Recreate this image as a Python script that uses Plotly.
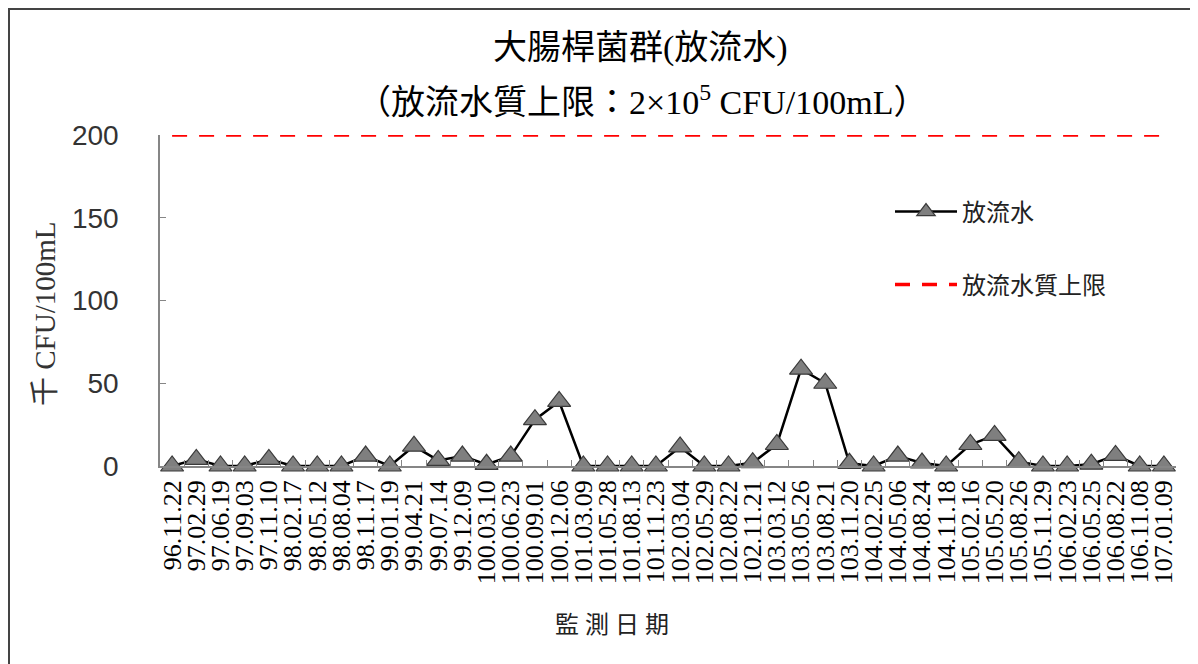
import plotly.graph_objects as go

dates = ["96.11.22", "97.02.29", "97.06.19", "97.09.03", "97.11.10", "98.02.17", "98.05.12",
         "98.08.04", "98.11.17", "99.01.19", "99.04.21", "99.07.14", "99.12.09", "100.03.10",
         "100.06.23", "100.09.01", "100.12.06", "101.03.09", "101.05.28", "101.08.13", "101.11.23",
         "102.03.04", "102.05.29", "102.08.22", "102.11.21", "103.03.12", "103.05.26", "103.08.21",
         "103.11.20", "104.02.25", "104.05.06", "104.08.24", "104.11.18", "105.02.16", "105.05.20",
         "105.08.26", "105.11.29", "106.02.23", "106.05.25", "106.08.22", "106.11.08", "107.01.09"]

effluent = [0, 4, 0, 0, 4, 0, 0,
            0, 6, 0, 12, 3.4, 6, 1,
            6, 28, 39, 0, 0, 0, 0,
            11.5, 0, 0, 2, 13, 58.5, 50,
            1.6, 0, 6, 1.8, 0, 13, 18.5,
            2.6, 0, 0, 1.1, 6.4, 0, 0]

limit_value = 200
limit = [limit_value] * len(dates)

serif = "Liberation Serif, Noto Sans CJK TC, serif"
cjk = "Liberation Serif, Noto Sans CJK TC, sans-serif"

fig = go.Figure()
fig.add_trace(go.Scatter(
    x=dates, y=effluent, mode="lines+markers", name="放流水",
    line=dict(color="black", width=2.5),
    marker=dict(symbol="triangle-up", size=20, color="#7f7f7f",
                line=dict(color="#3a3a3a", width=1.2)),
    cliponaxis=False, legend="legend"))
fig.add_trace(go.Scatter(
    x=dates, y=limit, mode="lines", name="放流水質上限",
    line=dict(color="#ff0000", width=3.5, dash="15px,12px"),
    cliponaxis=False, legend="legend2"))

# page body has an 8px margin; work in page coordinates
OFF = 8
PAGE_W, PAGE_H = 1198, 664
W, H = PAGE_W - OFF, PAGE_H - OFF
PL, PR, PT, PB = 160, 1176, 135, 466  # plot area in page coords
L, T = PL - OFF, PT - OFF
R = W - (PR - OFF)
B = H - (PB - OFF)
pw, ph = PR - PL, PB - PT

def px(x):
    return (x - PL) / pw

def py(y):
    return (PB - y) / ph

fig.update_layout(
    width=W, height=H,
    margin=dict(l=L, r=R, t=T, b=B, autoexpand=False),
    paper_bgcolor="white", plot_bgcolor="white",
    showlegend=True,
    legend=dict(x=px(890), y=py(212), xanchor="left", yanchor="middle",
                bgcolor="rgba(0,0,0,0)", font=dict(family=cjk, size=24, color="#222"),
                itemwidth=62),
    legend2=dict(x=px(890), y=py(285), xanchor="left", yanchor="middle",
                 bgcolor="rgba(0,0,0,0)", font=dict(family=cjk, size=24, color="#222"),
                 itemwidth=62),
    xaxis=dict(type="category", range=[-0.5, len(dates) - 0.5],
               tickmode="array", tickvals=dates, ticktext=dates,
               showline=True, linecolor="#868686", linewidth=1.5,
               ticks="inside", tickson="boundaries", ticklen=6, tickcolor="#868686",
               tickangle=-90, tickfont=dict(family=serif, size=26, color="black"),
               ticklabelstandoff=2, showgrid=False, zeroline=False, automargin=False),
    yaxis=dict(range=[0, 200], tickvals=[0, 50, 100, 150, 200],
               showline=True, linecolor="#868686", linewidth=1.5,
               ticks="inside", ticklen=6, tickcolor="#868686",
               tickfont=dict(family="Liberation Sans, Arial, sans-serif", size=28, color="#333"),
               ticklabelstandoff=34, showgrid=False, zeroline=False, automargin=False),
    annotations=[
        dict(text="大腸桿菌群(放流水)", x=px(640), y=py(48), xref="paper", yref="paper",
             showarrow=False, font=dict(family=cjk, size=34, color="black"),
             xanchor="center", yanchor="middle"),
        dict(text="（放流水質上限：2×10<sup>5</sup> CFU/100mL）", x=px(642), y=py(100),
             xref="paper", yref="paper", showarrow=False,
             font=dict(family=cjk, size=34, color="black"), xanchor="center", yanchor="middle"),
        dict(text="千 CFU/100mL", x=px(45), y=py(314), xref="paper", yref="paper",
             showarrow=False, textangle=-90, font=dict(family=cjk, size=29, color="#333"),
             xanchor="center", yanchor="middle"),
        dict(text="監 測 日 期", x=px(612), y=py(625), xref="paper", yref="paper",
             showarrow=False, font=dict(family=cjk, size=24, color="#222"),
             xanchor="center", yanchor="middle"),
    ],
    shapes=[
        dict(type="rect", xref="paper", yref="paper",
             x0=px(9), x1=px(1196), y0=py(680), y1=py(9),
             line=dict(color="#444", width=2), fillcolor="rgba(0,0,0,0)", layer="below"),
    ],
)

fig.write_html("out.html")
